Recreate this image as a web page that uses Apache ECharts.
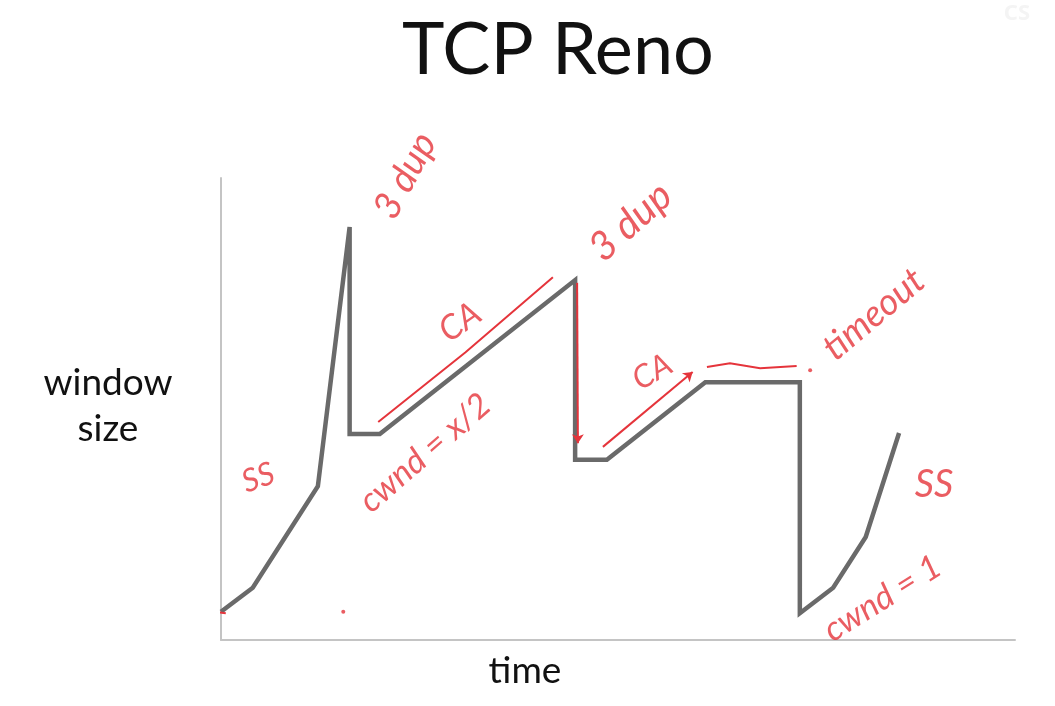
<!DOCTYPE html>
<html>
<head>
<meta charset="utf-8">
<script src="https://cdn.jsdelivr.net/npm/echarts@6/dist/echarts.min.js"></script>
<style>
  html, body { margin: 0; padding: 0; background: #fff; }
  #main { width: 1055px; height: 706px; }
</style>
</head>
<body>
<div id="main"></div>
<script>
// window size over time (x: 0..100, y: 0..100)
var renoLine = [
  [0, 6.1], [4.0, 11.3], [12.2, 33.3], [16.2, 89.4], [16.2, 44.6], [20.0, 44.6],
  [44.6, 77.9], [44.6, 39.0], [48.6, 39.0], [61.0, 55.8], [72.9, 55.8],
  [72.9, 5.8], [77.1, 11.3], [81.2, 22.3], [85.4, 44.8]
]

// red pen strokes
var caArrow1 = [[19.8, 47.2], [30.8, 62.3], [41.8, 78.5]]
var dupArrow = [[44.85, 77.3], [44.95, 42.6]]
var caArrow2 = [[48.1, 41.8], [59.4, 58.0]]
var timeoutStroke = [[61.2, 59.1], [64.1, 59.9], [67.9, 58.8], [72.5, 59.3]]
var startStroke = [[-1.0, 6.1], [0.6, 5.8]]
var penDots = [[74.2, 58.4], [15.4, 6.1]]

// handwritten notes
var noteText = ['3 dup', 'CA', 'cwnd = x/2', '3 dup', 'CA', 'timeout', 'SS', 'SS', 'cwnd = 1']
var notePos = [
  [23.2, 100.5], [30.1, 68.8], [25.7, 40.5], [51.6, 90.5], [54.3, 58.0],
  [82.2, 70.5], [4.7, 35.1], [89.8, 33.5], [83.3, 9.0]
]
var noteAngle = [62, 35, 41, 42, 30, 40, 20, 0, 32]
var noteSize = [38, 34, 34, 40, 32, 37, 32, 38, 34]

var red = '#e5343b'
var chart = echarts.init(document.getElementById('main'))

function penLine(name, pts, arrow) {
  return {
    name: name,
    type: 'lines',
    coordinateSystem: 'cartesian2d',
    polyline: pts.length > 2,
    silent: true,
    symbol: arrow ? ['none', 'arrow'] : 'none',
    symbolSize: 9,
    lineStyle: { color: red, width: 2, opacity: 1, curveness: 0 },
    data: [{ coords: pts }],
    z: 4
  }
}

function slideText(text, x, y, size) {
  return {
    type: 'text', x: x, y: y,
    style: {
      text: text, font: size + 'px Lato', fill: '#111',
      align: 'center', verticalAlign: 'middle'
    }
  }
}

var option = {
  animation: false,
  backgroundColor: '#fff',
  graphic: [
    slideText('TCP Reno', 558, 51, 72),
    slideText('window', 108, 383, 37),
    slideText('size', 108, 429, 37),
    slideText('time', 525, 671, 37),
    {
      type: 'text', right: 25, top: 3,
      style: { text: 'CS', font: 'bold 22px "Noto Sans"', fill: '#f4f4f4' }
    }
  ],
  grid: { left: 221, right: 40, top: 178, bottom: 66 },
  xAxis: {
    type: 'value',
    min: 0, max: 100,
    axisLine: { show: true, lineStyle: { color: '#c4c4c4', width: 2 } },
    axisTick: { show: false },
    axisLabel: { show: false },
    splitLine: { show: false }
  },
  yAxis: {
    type: 'value',
    min: 0, max: 100,
    axisLine: { show: true, lineStyle: { color: '#c4c4c4', width: 2 } },
    axisTick: { show: false },
    axisLabel: { show: false },
    splitLine: { show: false }
  },
  series: [
    {
      name: 'window',
      type: 'line',
      data: renoLine,
      symbol: 'none',
      silent: true,
      lineStyle: { color: '#6a6a6a', width: 4.5, join: 'miter' },
      z: 3
    },
    penLine('ca1', caArrow1, true),
    penLine('dup', dupArrow, true),
    penLine('ca2', caArrow2, true),
    penLine('timeout', timeoutStroke, false),
    penLine('start', startStroke, false),
    {
      name: 'dots',
      type: 'scatter',
      data: penDots,
      symbolSize: 4,
      silent: true,
      clip: false,
      itemStyle: { color: red }
    },
    {
      name: 'notes',
      type: 'scatter',
      silent: true,
      clip: false,
      symbolSize: 0,
      data: notePos.map(function (p, i) {
        return {
          value: p,
          name: noteText[i],
          label: { rotate: noteAngle[i], fontSize: noteSize[i] }
        }
      }),
      label: {
        show: true,
        position: 'inside',
        formatter: '{b}',
        color: red,
        fontFamily: 'Lato',
        fontStyle: 'italic',
        fontWeight: 'normal'
      },
      z: 5
    }
  ]
}

chart.setOption(option)
</script>
</body>
</html>
